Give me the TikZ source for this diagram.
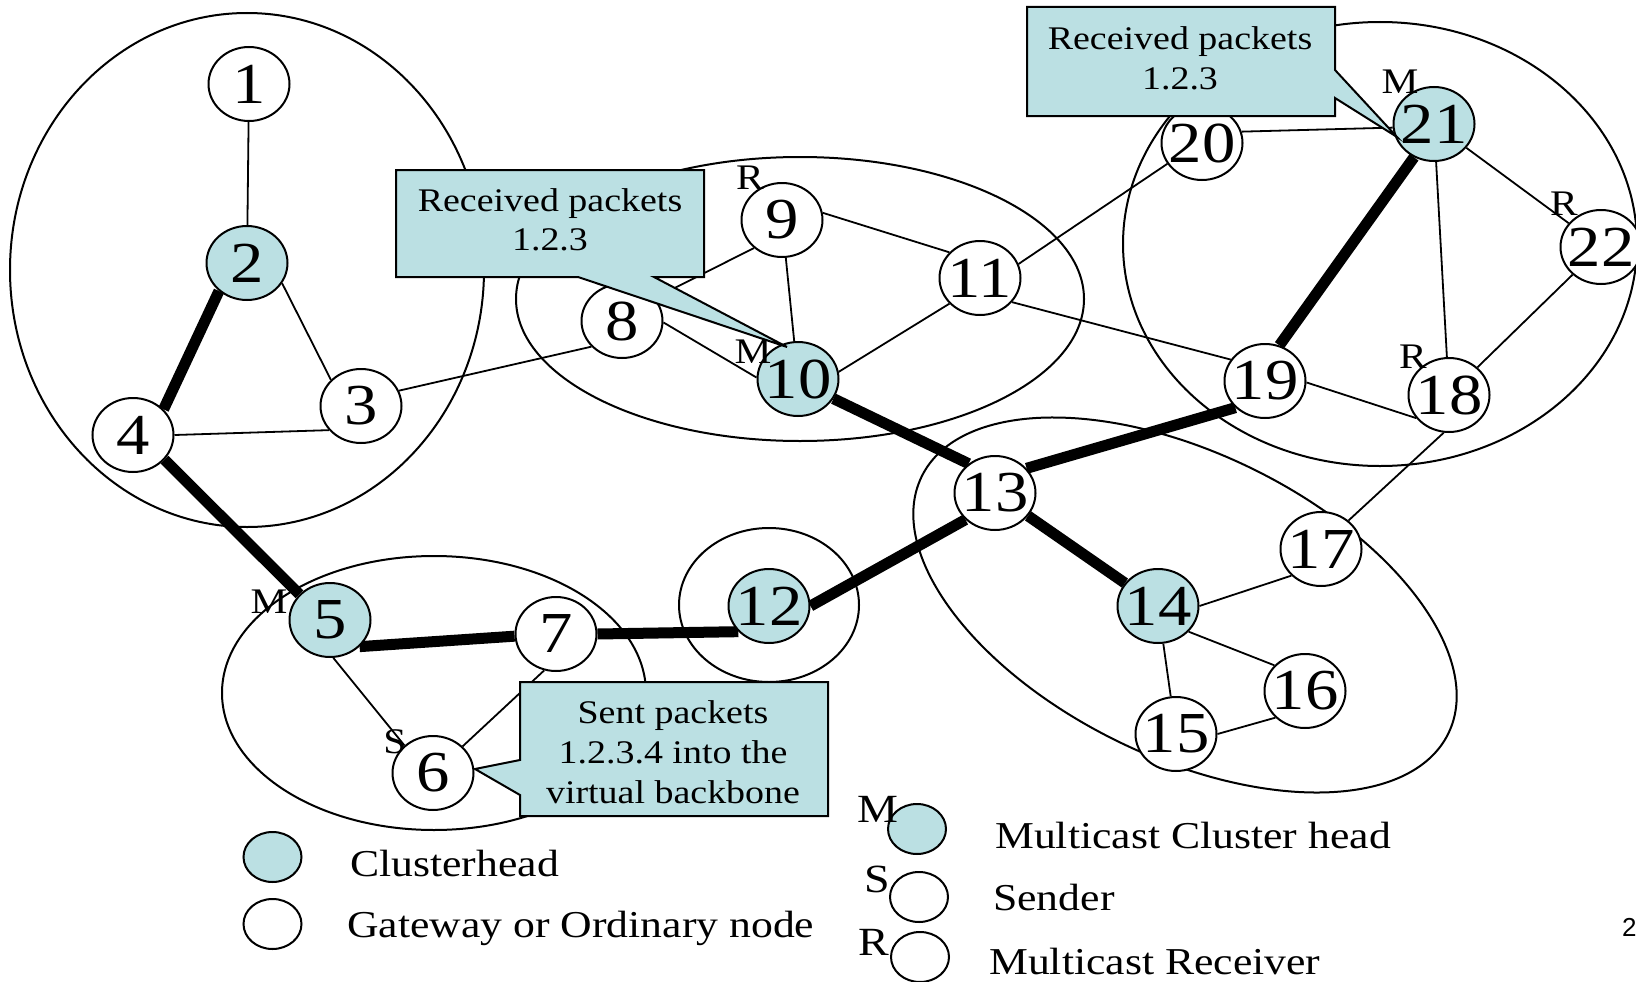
\documentclass[tikz,border=0pt]{standalone}
\usepackage{fontspec}
\setmainfont{Liberation Serif}[FakeStretch=1.15]
\newfontfamily\slidesans{Liberation Sans}
\usetikzlibrary{shapes.geometric,backgrounds}
\definecolor{chead}{HTML}{BBE0E3}
\newcommand\ntxt[1]{\makebox[0pt]{#1}}
\begin{document}
\begin{tikzpicture}[x=1pt,y=-1pt,
  nd/.style={ellipse, draw, line width=2pt, fill=white, minimum width=81pt, minimum height=74pt, inner sep=0pt, font=\fontsize{58}{58}\selectfont},
  ch/.style={nd, fill=chead},
  ethin/.style={line width=1.8pt},
  bb/.style={line width=11pt},
  clus/.style={line width=2pt},
  lab/.style={anchor=base, inner sep=0pt, font=\fontsize{36}{36}\selectfont},
  llab/.style={anchor=base, inner sep=0pt, font=\fontsize{40}{40}\selectfont},
  txt/.style={anchor=base west, inner sep=0pt, font=\fontsize{38}{38}\selectfont},
  ctxt/.style={anchor=base, inner sep=0pt, font=\fontsize{33}{33}\selectfont},
  callout/.style={draw, line width=2pt, fill=chead, line join=miter},
  leg/.style={ellipse, draw, line width=2pt, fill=white, minimum width=58pt, minimum height=50pt, inner sep=0pt}
]
\useasboundingbox (0,0) rectangle (1636,982);

% nodes
\node[nd] (n1) at (249,84) {\ntxt{1}};
\node[ch] (n2) at (247,263) {\ntxt{2}};
\node[nd] (n3) at (361,406) {\ntxt{3}};
\node[nd] (n4) at (133,435) {\ntxt{4}};
\node[ch] (n5) at (330,620) {\ntxt{5}};
\node[nd] (n6) at (433,773) {\ntxt{6}};
\node[nd] (n7) at (556,634) {\ntxt{7}};
\node[nd] (n8) at (622,321) {\ntxt{8}};
\node[nd] (n9) at (782,220) {\ntxt{9}};
\node[ch] (n10) at (798,379) {\ntxt{10}};
\node[nd] (n11) at (980,278) {\ntxt{11}};
\node[ch] (n12) at (769,606) {\ntxt{12}};
\node[nd] (n13) at (995,493) {\ntxt{13}};
\node[ch] (n14) at (1158,606) {\ntxt{14}};
\node[nd] (n15) at (1176,734) {\ntxt{15}};
\node[nd] (n16) at (1305,691) {\ntxt{16}};
\node[nd] (n17) at (1321,549) {\ntxt{17}};
\node[nd] (n18) at (1449,395) {\ntxt{18}};
\node[nd] (n19) at (1265,381) {\ntxt{19}};
\node[nd] (n20) at (1202,143) {\ntxt{20}};
\node[ch] (n21) at (1434,124) {\ntxt{21}};
\node[nd] (n22) at (1601,247) {\ntxt{22}};

\begin{scope}[on background layer]
  % clusters
  \draw[clus] (247,270) ellipse [x radius=237pt, y radius=257pt];
  \draw[clus] (800,299) ellipse [x radius=284pt, y radius=142pt];
  \draw[clus] (769,605) ellipse [x radius=90pt, y radius=77pt];
  \draw[clus] (434,693) ellipse [x radius=212pt, y radius=137pt];
  \draw[clus, rotate around={-26:(1185,605)}] (1185,605) ellipse [x radius=293pt, y radius=152pt];
  \draw[clus] (1380,244) ellipse [x radius=257pt, y radius=222pt];
  % thin links
  \draw[ethin] (n1) -- (n2);
  \draw[ethin] (n2.-30) -- (n3.139);
  \draw[ethin] (n4.east) -- (n3.217);
  \draw[ethin] (n3.22) -- (n8.220);
  \draw[ethin] (n8.35) -- (n9.225);
  \draw[ethin] (n8.-2) -- (n10.178);
  \draw[ethin] (n9) -- (n10);
  \draw[ethin] (n9.10) -- (n11.140);
  \draw[ethin] (n10.10) -- (n11.220);
  \draw[ethin] (n11.20) -- (n20.211);
  \draw[ethin] (n11.-37) -- (n19.148);
  \draw[ethin] (n20.16) -- (n21.185);
  \draw[ethin] (n21) -- (n22);
  \draw[ethin] (n21) -- (n18);
  \draw[ethin] (n22) -- (n18);
  \draw[ethin] (n19.-2) -- (n18.215);
  \draw[ethin] (n18.262) -- (n17.46);
  \draw[ethin] (n14.east) -- (n17.222);
  \draw[ethin] (n14.-40) -- (n16.140);
  \draw[ethin] (n14) -- (n15);
  \draw[ethin] (n15.east) -- (n16.222);
  \draw[ethin] (n5.275) -- (n6.136);
  \draw[ethin] (n6.42) -- (n7.252);
  % backbone
  \draw[bb] (n2.225) -- (n4.40);
  \draw[bb] (n4.-38) -- (n5.140);
  \draw[bb] (n5.-42) -- (n7.183);
  \draw[bb] (n7.east) -- (n12.220);
  \draw[bb] (n12.east) -- (n13.222);
  \draw[bb] (n10.-29) -- (n13.132);
  \draw[bb] (n13.38) -- (n19.222);
  \draw[bb] (n19.68) -- (n21.239);
  \draw[bb] (n13) -- (n14);
\end{scope}

% role labels
\node[lab] (m5) at (269,613) {M};
\node[lab] (s6) at (395,753) {S};
\node[lab] (m10) at (753,363) {M};
\node[lab] (r9) at (750,189) {R};
\node[lab] (m21) at (1400,93) {M};
\node[lab] (r22) at (1564,215) {R};
\node[lab] (r18) at (1413,368) {R};

% callouts
\path[callout] (396,170) -- (704,170) -- (704,277) -- (654,277) -- (787,347) -- (578,277) -- (396,277) -- cycle;
\node[ctxt] (c1a) at (550,211) {Received packets};
\node[ctxt] (c1b) at (550,250) {1.2.3};

\path[callout] (1027,7) -- (1335,7) -- (1335,70) -- (1397,137) -- (1335,98) -- (1335,116) -- (1027,116) -- cycle;
\node[ctxt] (c2a) at (1180,50) {Received packets};
\node[ctxt] (c2b) at (1180,89) {1.2.3};

\path[callout] (520,682) -- (828,682) -- (828,816) -- (520,816) -- (520,795) -- (475,769) -- (520,760) -- cycle;
\node[ctxt] (c3a) at (673,723) {Sent packets};
\node[ctxt] (c3b) at (673,763) {1.2.3.4 into the};
\node[ctxt] (c3c) at (673,803) {virtual backbone};

% legend
\node[leg, fill=chead] (lg1) at (272.5,857) {};
\node[leg] (lg2) at (272.5,924) {};
\node[txt] (lt1) at (350,876) {Clusterhead};
\node[txt] (lt2) at (347,937) {Gateway or Ordinary node};
\node[leg, fill=chead] (lg3) at (917,829) {};
\node[leg] (lg4) at (919,897) {};
\node[leg] (lg5) at (920,957) {};
\node[llab] (lm) at (878,822) {M};
\node[llab] (ls) at (877,892) {S};
\node[llab] (lr) at (874,955) {R};
\node[txt] (lt3) at (995,848) {Multicast Cluster head};
\node[txt] (lt4) at (993,910) {Sender};
\node[txt] (lt5) at (989,974) {Multicast Receiver};

\node[anchor=base west, inner sep=0pt, font=\slidesans\fontsize{26}{26}\selectfont] (pg) at (1622,936) {2};
\end{tikzpicture}
\end{document}
